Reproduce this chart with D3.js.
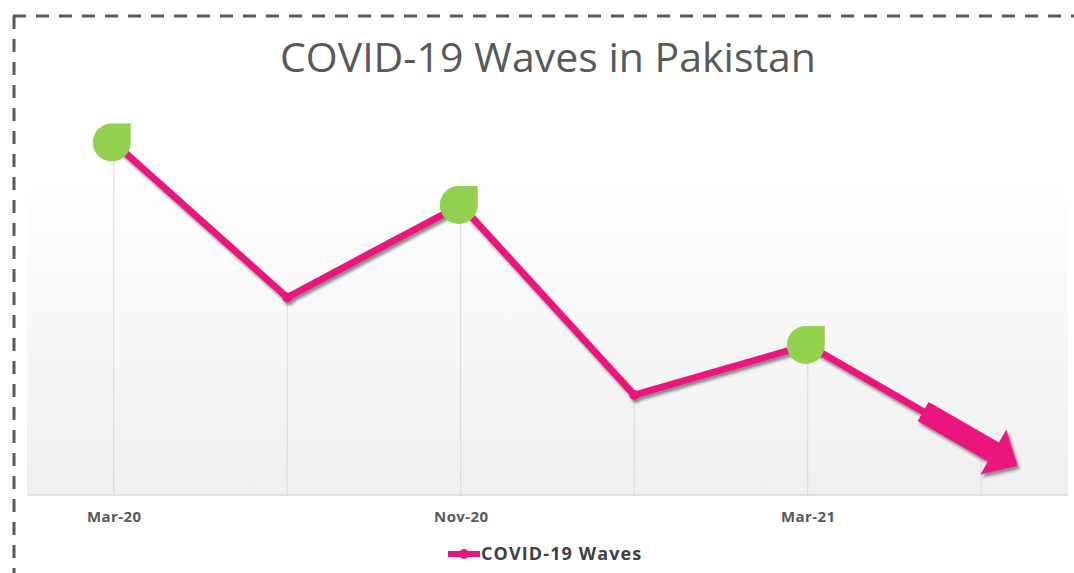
<!DOCTYPE html>
<html>
<head>
<meta charset="utf-8">
<script src="https://cdn.jsdelivr.net/npm/d3@7"></script>
<style>
  body { margin: 0; background: #fff; }
  svg { display: block; }
  text { font-family: "Open Sans", "Noto Sans", sans-serif; }
</style>
</head>
<body>
<div class="svg-container"></div>
<script>
// data
var categories = ["Mar-20", "Jul-20", "Nov-20", "Jan-21", "Mar-21", "May-21"];
var tickLabels = ["Mar-20", "", "Nov-20", "", "Mar-21", ""];
var waveValues = [7.05, 3.95, 5.8, 2.0, 3.0, 1.0];
var peakFlags = [true, false, true, false, true, false];
var seriesName = "COVID-19 Waves";
var chartTitle = "COVID-19 Waves in Pakistan";

var width = 1074;
var height = 573;
var plot = { left: 27, right: 1068, top: 95, bottom: 495 };
var pink = "#E8177D";
var green = "#92D050";

var svg = d3.select(".svg-container").append("svg")
    .attr("width", width)
    .attr("height", height);

var defs = svg.append("defs");
var grad = defs.append("linearGradient")
    .attr("id", "bg")
    .attr("x1", 0).attr("y1", 0).attr("x2", 0).attr("y2", 1);
grad.append("stop").attr("offset", "0%").attr("stop-color", "#ffffff");
grad.append("stop").attr("offset", "20%").attr("stop-color", "#ffffff");
grad.append("stop").attr("offset", "100%").attr("stop-color", "#efefef");

var shadow = defs.append("filter").attr("id", "shadow")
    .attr("x", "-10%").attr("y", "-10%").attr("width", "130%").attr("height", "130%");
shadow.append("feDropShadow")
    .attr("dx", 2).attr("dy", 3)
    .attr("stdDeviation", 1.8)
    .attr("flood-color", "#000")
    .attr("flood-opacity", 0.45);

// dashed frame (top + left)
svg.append("path")
    .attr("d", "M13,16H1074M14,16V573")
    .attr("fill", "none")
    .attr("stroke", "#595959")
    .attr("stroke-width", 3)
    .attr("stroke-dasharray", "13,10");

// plot area background
svg.append("rect")
    .attr("x", plot.left).attr("y", plot.top)
    .attr("width", plot.right - plot.left)
    .attr("height", plot.bottom - plot.top)
    .attr("fill", "url(#bg)");

// title
svg.append("text")
    .attr("x", 548).attr("y", 72)
    .attr("text-anchor", "middle")
    .attr("font-size", 41)
    .attr("fill", "#595959")
    .text(chartTitle);

// scales
var x = d3.scalePoint()
    .domain(categories)
    .range([plot.left, plot.right])
    .padding(0.5);

var y = d3.scaleLinear()
    .domain([0, 8])
    .range([plot.bottom, plot.top]);

// vertical drop lines
svg.append("g")
    .selectAll("line")
    .data(categories)
    .enter().append("line")
    .attr("x1", function(d) { return x(d); })
    .attr("x2", function(d) { return x(d); })
    .attr("y1", function(d, i) { return y(waveValues[i]); })
    .attr("y2", plot.bottom)
    .attr("stroke", "#d9d9d9")
    .attr("stroke-width", 1);

// X axis
var xAxis = d3.axisBottom(x)
    .tickSize(0)
    .tickPadding(16)
    .tickFormat(function(d, i) { return tickLabels[i]; });

var gx = svg.append("g")
    .attr("transform", "translate(0," + plot.bottom + ")")
    .call(xAxis);
gx.select(".domain")
    .attr("d", "M" + plot.left + ",0H" + plot.right)
    .attr("stroke", "#d9d9d9")
    .attr("stroke-width", 1.5);
gx.selectAll("text")
    .attr("font-family", "'Open Sans', sans-serif")
    .attr("font-size", 15)
    .attr("font-weight", "bold")
    .attr("letter-spacing", 0.4)
    .attr("fill", "#595959");

// line
var line = d3.line()
    .x(function(d, i) { return x(categories[i]); })
    .y(function(d) { return y(d); });

var g = svg.append("g").attr("filter", "url(#shadow)");

g.append("path")
    .datum(waveValues)
    .attr("d", line)
    .attr("fill", "none")
    .attr("stroke", pink)
    .attr("stroke-width", 7)
    .attr("stroke-linejoin", "round");

// arrow head at the end of the series
var n = waveValues.length;
var p0 = [x(categories[n - 2]), y(waveValues[n - 2])];
var p1 = [x(categories[n - 1]), y(waveValues[n - 1])];
var ang = Math.atan2(p1[1] - p0[1], p1[0] - p0[0]) * 180 / Math.PI;
var arrowShape = [[-67, -11], [14, -11], [14, -26], [42, 0], [14, 26], [14, 11], [-67, 11]];
g.append("path")
    .attr("d", d3.line()(arrowShape) + "Z")
    .attr("transform", "translate(" + p1[0] + "," + p1[1] + ") rotate(" + ang + ")")
    .attr("fill", pink);

// trough markers
g.selectAll(".trough")
    .data(waveValues.map(function(v, i) { return { v: v, i: i }; })
        .filter(function(d) { return !peakFlags[d.i] && d.i < n - 1; }))
    .enter().append("circle")
    .attr("class", "trough")
    .attr("cx", function(d) { return x(categories[d.i]); })
    .attr("cy", function(d) { return y(d.v); })
    .attr("r", 5)
    .attr("fill", pink);

// peak teardrop markers
var r = 19;
var drop = "M" + (-r) + ",0A" + r + "," + r + " 0 1 0 " + r + ",0V" + (-r) + "H0A" + r + "," + r + " 0 0 0 " + (-r) + ",0Z";
svg.selectAll(".peak")
    .data(waveValues.map(function(v, i) { return { v: v, i: i }; })
        .filter(function(d) { return peakFlags[d.i]; }))
    .enter().append("path")
    .attr("class", "peak")
    .attr("d", drop)
    .attr("transform", function(d) { return "translate(" + (x(categories[d.i]) - 2) + "," + y(d.v) + ")"; })
    .attr("fill", green);

// legend
var lg = svg.append("g").attr("transform", "translate(448,554)");
lg.append("line")
    .attr("x1", 0).attr("x2", 32)
    .attr("stroke", pink).attr("stroke-width", 6);
lg.append("circle")
    .attr("cx", 16).attr("r", 5)
    .attr("fill", pink);
lg.append("text")
    .attr("x", 33).attr("dy", "0.35em")
    .attr("font-size", 18)
    .attr("font-weight", "bold")
    .attr("letter-spacing", 1.1)
    .attr("fill", "#404040")
    .text(seriesName);
</script>
</body>
</html>
